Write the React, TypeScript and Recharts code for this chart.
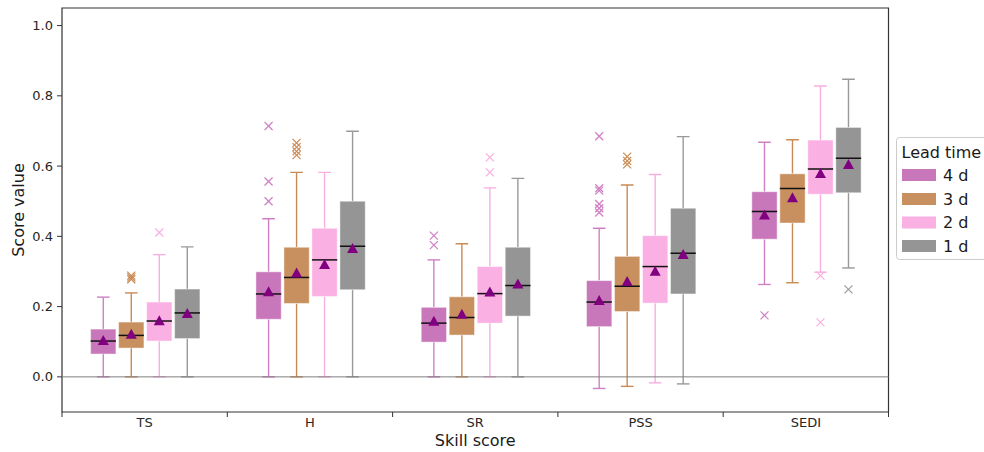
import React from 'react';
import { ComposedChart, Bar, XAxis, YAxis, ReferenceLine, ReferenceArea } from 'recharts';

// ---- data ----
const categories = ['TS', 'H', 'SR', 'PSS', 'SEDI'];
const leadTimes = ['4 d', '3 d', '2 d', '1 d'];
const yTicks = [0, 0.2, 0.4, 0.6, 0.8, 1.0];

// [leadTime][category]
const whiskerLow = [
  [0, 0, 0, -0.033, 0.263],
  [0, 0, 0, -0.027, 0.268],
  [0, 0, 0, -0.017, 0.298],
  [0, 0, 0, -0.02, 0.31],
];
const q1 = [
  [0.065, 0.164, 0.099, 0.143, 0.392],
  [0.082, 0.209, 0.119, 0.186, 0.438],
  [0.102, 0.229, 0.153, 0.21, 0.52],
  [0.109, 0.248, 0.173, 0.236, 0.524],
];
const median = [
  [0.102, 0.236, 0.153, 0.213, 0.471],
  [0.118, 0.283, 0.169, 0.258, 0.536],
  [0.159, 0.333, 0.237, 0.314, 0.592],
  [0.182, 0.372, 0.26, 0.352, 0.622],
];
const q3 = [
  [0.136, 0.299, 0.198, 0.274, 0.527],
  [0.156, 0.369, 0.228, 0.343, 0.578],
  [0.213, 0.423, 0.314, 0.402, 0.674],
  [0.25, 0.5, 0.369, 0.48, 0.71],
];
const whiskerHigh = [
  [0.227, 0.45, 0.333, 0.423, 0.668],
  [0.239, 0.582, 0.379, 0.546, 0.675],
  [0.348, 0.582, 0.538, 0.576, 0.828],
  [0.37, 0.699, 0.565, 0.684, 0.847],
];
const mean = [
  [0.105, 0.244, 0.16, 0.219, 0.462],
  [0.123, 0.297, 0.18, 0.273, 0.511],
  [0.161, 0.321, 0.243, 0.302, 0.58],
  [0.182, 0.367, 0.266, 0.35, 0.606],
];
const outliers: number[][][] = [
  [[], [0.714, 0.556, 0.5], [0.402, 0.375], [0.685, 0.537, 0.53, 0.492, 0.48, 0.468], [0.175]],
  [[0.288, 0.283, 0.278], [0.666, 0.654, 0.642, 0.631], [], [0.627, 0.615, 0.605], []],
  [[0.411], [], [0.625, 0.582], [], [0.288, 0.155]],
  [[], [], [], [], [0.249]],
];

// ---- style ----
const boxFill = ['#c977bb', '#c8905e', '#fbb0e3', '#959595'];
const lineColor = ['#cf80c4', '#c98a55', '#f9aee1', '#999999'];
const meanColor = '#800080';
const FONT = '"DejaVu Sans", Verdana, sans-serif';

const rows = categories.map((cat, j) => ({ cat, j }));

const makeShape = (li: number) => (props: any) => {
  const { x, y, width, height, payload } = props;
  if (x == null || y == null || payload == null) return <g />;
  const j = payload.j;
  const lo = whiskerLow[li][j];
  const hi = whiskerHigh[li][j];
  const top = Math.min(y, y + height);
  const bot = Math.max(y, y + height);
  const k = (bot - top) / (hi - lo);
  const py = (v: number) => top + (hi - v) * k;
  const cx = x + width / 2;
  const bw = width - 2.7;
  const capHalf = bw / 4;
  const lc = lineColor[li];
  const yq1 = py(q1[li][j]);
  const yq3 = py(q3[li][j]);
  const ym = py(median[li][j]);
  const ymean = py(mean[li][j]);
  return (
    <g>
      <line x1={cx} x2={cx} y1={py(hi)} y2={yq3} stroke={lc} strokeWidth={1.4} />
      <line x1={cx} x2={cx} y1={yq1} y2={py(lo)} stroke={lc} strokeWidth={1.4} />
      <line x1={cx - capHalf} x2={cx + capHalf} y1={py(hi)} y2={py(hi)} stroke={lc} strokeWidth={1.4} />
      <line x1={cx - capHalf} x2={cx + capHalf} y1={py(lo)} y2={py(lo)} stroke={lc} strokeWidth={1.4} />
      <rect
        x={cx - bw / 2}
        y={yq3}
        width={bw}
        height={yq1 - yq3}
        fill={boxFill[li]}
        stroke="#ffffff"
        strokeOpacity={0.45}
        strokeWidth={1}
      />
      <line x1={cx - bw / 2} x2={cx + bw / 2} y1={ym} y2={ym} stroke="#111" strokeWidth={1.5} />
      <polygon
        points={`${cx},${ymean - 5} ${cx - 5.5},${ymean + 5} ${cx + 5.5},${ymean + 5}`}
        fill={meanColor}
      />
      {outliers[li][j].map((v, i) => {
        const oy = py(v);
        return (
          <g key={i}>
            <line x1={cx - 4} x2={cx + 4} y1={oy - 4} y2={oy + 4} stroke={lc} strokeWidth={1.2} />
            <line x1={cx - 4} x2={cx + 4} y1={oy + 4} y2={oy - 4} stroke={lc} strokeWidth={1.2} />
          </g>
        );
      })}
    </g>
  );
};

const CatTick = (props: any) => {
  const { x, y, payload, index, visibleTicksCount } = props;
  const half = payload && typeof payload.offset === 'number' && payload.offset > 0 ? payload.offset : 82.65;
  const axisY = y - 7;
  const last = index === (visibleTicksCount ?? categories.length) - 1;
  return (
    <g>
      <line x1={x - half} x2={x - half} y1={axisY} y2={axisY + 5} stroke="#333" strokeWidth={1} />
      {last && <line x1={x + half} x2={x + half} y1={axisY} y2={axisY + 5} stroke="#333" strokeWidth={1} />}
      <text x={x} y={axisY + 14.5} textAnchor="middle" fontSize={13} fill="#262626" fontFamily={FONT}>
        {payload.value}
      </text>
    </g>
  );
};

const legendRowY = [175, 199, 222.5, 246];

export default function App() {
  return (
    <div
      style={{
        position: 'absolute',
        left: 0,
        top: 0,
        width: 984,
        height: 452,
        overflow: 'hidden',
        background: '#fff',
        fontFamily: FONT,
      }}
    >
      <ComposedChart
        width={984}
        height={452}
        data={rows}
        margin={{ top: 8, right: 95.5, bottom: 10, left: 0 }}
        barCategoryGap="16.5%"
        barGap={0}
      >
        <XAxis
          dataKey="cat"
          type="category"
          height={30}
          axisLine={false}
          tickLine={false}
          tickSize={5}
          tickMargin={2}
          interval={0}
          tick={<CatTick />}
          label={{
            content: (p: any) => {
              const vb = p.viewBox || { x: 62, y: 412, width: 826.5 };
              return (
                <text x={vb.x + vb.width / 2} y={vb.y + 34} textAnchor="middle" fontSize={16} fill="#1a1a1a" fontFamily={FONT}>
                  Skill score
                </text>
              );
            },
          }}
        />
        <YAxis
          type="number"
          domain={[-0.1, 1.05]}
          ticks={yTicks}
          allowDataOverflow
          width={62}
          axisLine={false}
          tickLine={{ stroke: '#333', strokeWidth: 1 }}
          tickSize={5}
          tickMargin={4}
          tickFormatter={(v: number) => v.toFixed(1)}
          tick={{ fontSize: 13, fill: '#262626', fontFamily: FONT }}
          label={{
            content: (p: any) => {
              const vb = p.viewBox || { x: 0, y: 8, height: 404 };
              const cx = 18;
              const cy = vb.y + vb.height / 2;
              return (
                <text
                  x={cx}
                  y={cy}
                  transform={`rotate(-90, ${cx}, ${cy})`}
                  textAnchor="middle"
                  dominantBaseline="central"
                  fontSize={16}
                  fill="#1a1a1a"
                  fontFamily={FONT}
                >
                  Score value
                </text>
              );
            },
          }}
        />
        <ReferenceLine y={0} stroke="#7f7f7f" strokeWidth={1} />
        {leadTimes.map((lt, li) => (
          <Bar
            key={lt}
            name={lt}
            dataKey={(d: any) => [whiskerLow[li][d.j], whiskerHigh[li][d.j]]}
            isAnimationActive={false}
            shape={makeShape(li)}
          />
        ))}
        <ReferenceArea y1={-0.1} y2={1.05} fill="none" stroke="#333" strokeWidth={1.2} ifOverflow="visible" />
      </ComposedChart>
      <svg width={984} height={452} style={{ position: 'absolute', left: 0, top: 0, pointerEvents: 'none' }}>
        <rect x={896.5} y={137.5} width={100} height={122} rx={3} fill="#fff" fillOpacity={0.8} stroke="#cccccc" strokeWidth={1} />
        <text x={901.5} y={152} dominantBaseline="central" fontSize={16} fill="#1a1a1a" fontFamily={FONT}>
          Lead time
        </text>
        {leadTimes.map((lt, li) => (
          <g key={lt}>
            <rect x={902} y={legendRowY[li] - 6} width={34} height={12} fill={boxFill[li]} />
            <text x={943} y={legendRowY[li]} dominantBaseline="central" fontSize={16} fill="#1a1a1a" fontFamily={FONT}>
              {lt}
            </text>
          </g>
        ))}
      </svg>
    </div>
  );
}
